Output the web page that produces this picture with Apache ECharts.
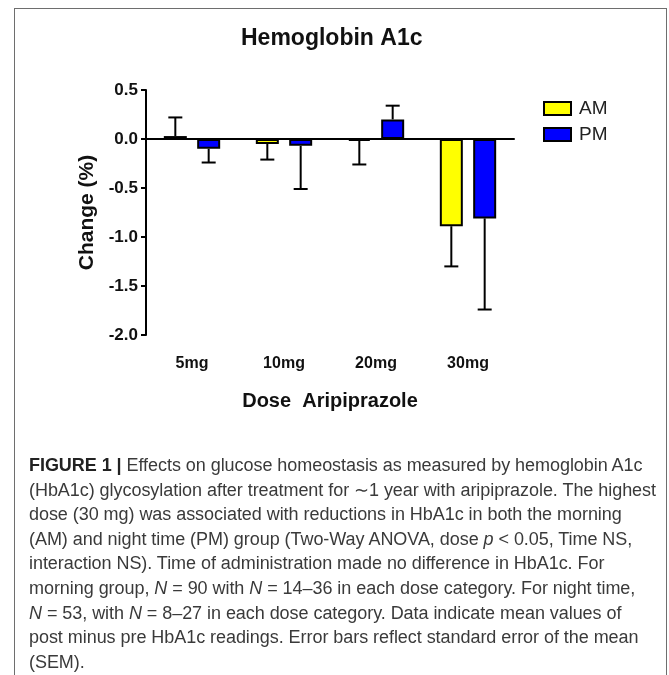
<!DOCTYPE html>
<html>
<head>
<meta charset="utf-8">
<script src="https://cdn.jsdelivr.net/npm/echarts@6/dist/echarts.min.js"></script>
<style>
  html, body { margin: 0; padding: 0; background: #fff; }
  #wrap { position: relative; width: 669px; height: 675px; overflow: hidden; }
  #chart { position: absolute; left: 0; top: 0; width: 669px; height: 675px; }
  #frame { position: absolute; left: 14px; top: 8px; width: 653px; height: 700px;
           border: 1.5px solid #6e6e6e; border-bottom: none; box-sizing: border-box; }
  #caption { position: absolute; left: 29px; top: 453px; width: 640px;
             font-family: "Liberation Sans", Arial, sans-serif; font-size: 18px;
             line-height: 24.6px; color: #3a3a3a; white-space: nowrap; letter-spacing: -0.05px; }
  #caption b { color: #222; }
</style>
</head>
<body>
<div id="wrap">
  <div id="frame"></div>
  <div id="chart"></div>
  <div id="caption">
    <div><b>FIGURE 1 |</b> Effects on glucose homeostasis as measured by hemoglobin A1c</div>
    <div>(HbA1c) glycosylation after treatment for ∼1 year with aripiprazole. The highest</div>
    <div>dose (30 mg) was associated with reductions in HbA1c in both the morning</div>
    <div>(AM) and night time (PM) group (Two-Way ANOVA, dose <i>p</i> &lt; 0.05, Time NS,</div>
    <div>interaction NS). Time of administration made no difference in HbA1c. For</div>
    <div>morning group, <i>N</i> = 90 with <i>N</i> = 14–36 in each dose category. For night time,</div>
    <div><i>N</i> = 53, with <i>N</i> = 8–27 in each dose category. Data indicate mean values of</div>
    <div>post minus pre HbA1c readings. Error bars reflect standard error of the mean</div>
    <div>(SEM).</div>
  </div>
</div>
<script>
// ---- data ----
const doses = ['5mg', '10mg', '20mg', '30mg'];
const amMean = [0.03, -0.05, -0.02, -0.89];
const amSem  = [0.19, 0.16, 0.24, 0.41];
const pmMean = [-0.10, -0.07, 0.20, -0.81];
const pmSem  = [0.14, 0.44, 0.14, 0.93];
const yTicks = [-2.0, -1.5, -1.0, -0.5, 0.0, 0.5];

const BAR_W = 23;
const BAR_GAP = 0.45;
const OFFSET = (BAR_W + BAR_W * BAR_GAP) / 2;
const FONT = '"Liberation Sans", Arial, sans-serif';

function errData(means, sems) {
  return means.map((m, i) => [i, m, m >= 0 ? m + sems[i] : m - sems[i]]);
}

function errRender(offset) {
  return function (params, api) {
    const i = api.value(0);
    const p0 = api.coord([i, api.value(1)]);
    const p1 = api.coord([i, api.value(2)]);
    const x = p0[0] + offset;
    const cap = 7;
    const style = { stroke: '#000', lineWidth: 2 };
    return {
      type: 'group',
      children: [
        { type: 'line', shape: { x1: x, y1: p0[1], x2: x, y2: p1[1] }, style },
        { type: 'line', shape: { x1: x - cap, y1: p1[1], x2: x + cap, y2: p1[1] }, style }
      ]
    };
  };
}

const chart = echarts.init(document.getElementById('chart'), null, { renderer: 'canvas' });
chart.setOption({
  animation: false,
  title: {
    text: 'Hemoglobin A1c', left: 236, top: 22,
    textStyle: { fontFamily: FONT, fontSize: 23, fontWeight: 'bold', color: '#111' }
  },
  legend: {
    orient: 'vertical', left: 538, top: 94,
    itemWidth: 27, itemHeight: 13, itemGap: 7,
    icon: 'rect',
    textStyle: { fontFamily: FONT, fontSize: 19, color: '#222', padding: [0, 0, 0, 3] },
    data: ['AM', 'PM']
  },
  grid: { left: 146, right: 155, top: 90, bottom: 340 },
  xAxis: [
    {
      type: 'category', data: doses,
      axisLine: { onZero: true, lineStyle: { color: '#000', width: 2 } },
      axisTick: { show: false }, axisLabel: { show: false }
    },
    {
      type: 'category', data: doses, position: 'bottom',
      axisLine: { show: false, onZero: false }, axisTick: { show: false },
      axisLabel: { margin: 21, fontFamily: FONT, fontSize: 16, fontWeight: 'bold', color: '#111' },
      name: 'Dose  Aripiprazole', nameLocation: 'middle', nameGap: 56,
      nameTextStyle: { fontFamily: FONT, fontSize: 20, fontWeight: 'bold', color: '#111' }
    }
  ],
  yAxis: {
    type: 'value', min: yTicks[0], max: yTicks[yTicks.length - 1], interval: 0.5,
    axisLine: { show: true, lineStyle: { color: '#000', width: 2 } },
    axisTick: { show: true, inside: false, length: 5, lineStyle: { color: '#000', width: 2 } },
    splitLine: { show: false },
    axisLabel: { margin: 8, fontFamily: FONT, fontSize: 17, fontWeight: 'bold', color: '#111',
                 formatter: v => v.toFixed(1) },
    name: 'Change (%)', nameLocation: 'middle', nameRotate: 90, nameGap: 47,
    nameTextStyle: { fontFamily: FONT, fontSize: 21, fontWeight: 'bold', color: '#111' }
  },
  series: [
    {
      name: 'AM', type: 'bar', data: amMean, barWidth: BAR_W, barGap: (BAR_GAP * 100) + '%',
      itemStyle: { color: '#ffff00', borderColor: '#000', borderWidth: 2 }
    },
    {
      name: 'PM', type: 'bar', data: pmMean, barWidth: BAR_W,
      itemStyle: { color: '#0000ff', borderColor: '#000', borderWidth: 2 }
    },
    {
      type: 'custom', name: 'AM err', data: errData(amMean, amSem),
      renderItem: errRender(-OFFSET), z: 3, silent: true
    },
    {
      type: 'custom', name: 'PM err', data: errData(pmMean, pmSem),
      renderItem: errRender(OFFSET), z: 3, silent: true
    }
  ]
});
</script>
</body>
</html>
